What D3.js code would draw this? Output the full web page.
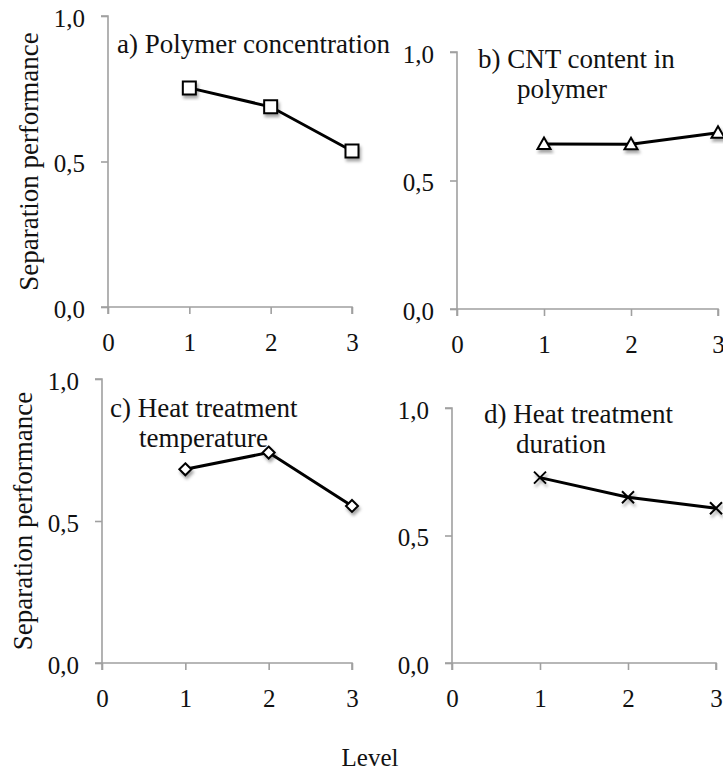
<!DOCTYPE html>
<html>
<head>
<meta charset="utf-8">
<script src="https://cdn.jsdelivr.net/npm/d3@7"></script>
<style>
  body { margin: 0; background: #fff; }
  svg text { font-family: 'Liberation Serif'; fill: #111; }
</style>
</head>
<body>
<svg id="chart"></svg>
<script>
// levels on the x axis
const levels = [1, 2, 3];
const xTicks = [0, 1, 2, 3];
const yTicks = [0, 0.5, 1.0];

// separation performance per panel
const polymerConc = [0.753, 0.688, 0.536];
const cntContent = [0.642, 0.641, 0.686];
const heatTemp = [0.682, 0.741, 0.553];
const heatDuration = [0.727, 0.650, 0.607];

const titlesA = ['a) Polymer concentration'];
const titlesB = ['b) CNT content in', 'polymer'];
const titlesC = ['c) Heat treatment', 'temperature'];
const titlesD = ['d) Heat treatment', 'duration'];

const yLabel = 'Separation performance';
const xLabel = 'Level';

const width = 723, height = 771;
const serif = "'Liberation Serif'";

const svg = d3.select('#chart')
    .attr('width', width)
    .attr('height', height);

// soft shadow under the markers
const defs = svg.append('defs');
defs.append('filter')
    .attr('id', 'shadow')
    .attr('x', '-50%').attr('y', '-50%')
    .attr('width', '200%').attr('height', '200%')
    .append('feDropShadow')
    .attr('dx', 1.5).attr('dy', 3)
    .attr('stdDeviation', 1.8)
    .attr('flood-color', '#000')
    .attr('flood-opacity', 0.35);

// panel frames (pixel boxes of each plot area)
const panels = [
    {values: polymerConc, titles: titlesA, symbol: 'square', left: 108, right: 352, top: 16, bottom: 307,
        tx: 117, ty: 53, indent: 0, ylab: true, ylx: 38},
    {values: cntContent, titles: titlesB, symbol: 'triangle', left: 457, right: 718, top: 52, bottom: 309,
        tx: 478, ty: 68, indent: 39, ylab: false},
    {values: heatTemp, titles: titlesC, symbol: 'diamond', left: 102, right: 352, top: 379, bottom: 663,
        tx: 110, ty: 417, indent: 29, ylab: true, ylx: 32},
    {values: heatDuration, titles: titlesD, symbol: 'cross', left: 452, right: 716, top: 408, bottom: 663,
        tx: 484, ty: 423, indent: 32, ylab: false}
];

function markerPath(type) {
    if (type === 'square') return 'M-6.5,-6.5H6.5V6.5H-6.5Z';
    if (type === 'triangle') return 'M0,-6.5L6.5,5L-6.5,5Z';
    if (type === 'diamond') return 'M0,-6L6,0L0,6L-6,0Z';
    return 'M-6,-6L6,6M-6,6L6,-6';
}

panels.forEach(p => {
    const x = d3.scaleLinear().domain([0, 3]).range([p.left, p.right]);
    const y = d3.scaleLinear().domain([0, 1]).range([p.bottom, p.top]);
    const g = svg.append('g');

    const yAxis = d3.axisLeft(y)
        .tickValues(yTicks)
        .tickSize(7)
        .tickPadding(16)
        .tickFormat(d => d3.format('.1f')(d).replace('.', ','));
    const xAxis = d3.axisBottom(x)
        .tickValues(xTicks)
        .tickSize(7)
        .tickPadding(19)
        .tickFormat(d3.format('d'));

    const ya = g.append('g')
        .attr('transform', `translate(${p.left},0)`)
        .call(yAxis);
    const xa = g.append('g')
        .attr('transform', `translate(0,${p.bottom})`)
        .call(xAxis);

    [ya, xa].forEach(a => {
        a.attr('font-family', serif).attr('font-size', 25);
        a.select('.domain').attr('stroke', '#a0a0a0').attr('stroke-width', 1.6);
        a.selectAll('.tick line').attr('stroke', '#a0a0a0').attr('stroke-width', 1.6);
        a.selectAll('text').attr('fill', '#111');
    });
    ya.selectAll('text').attr('dy', '0.4em');
    ya.select('.domain').attr('d', `M-7,${p.top}H0V${p.bottom}H-7`);
    xa.select('.domain').attr('d', `M${p.left},7V0H${p.right}V7`);

    // line
    const pts = levels.map((lv, i) => [lv, p.values[i]]);
    g.append('path')
        .datum(pts)
        .attr('fill', 'none')
        .attr('stroke', '#000')
        .attr('stroke-width', 3)
        .attr('d', d3.line().x(d => x(d[0])).y(d => y(d[1])));

    // markers
    g.selectAll('.mark')
        .data(pts)
        .join('path')
        .attr('class', 'mark')
        .attr('transform', d => `translate(${x(d[0])},${y(d[1])})`)
        .attr('d', markerPath(p.symbol))
        .attr('fill', p.symbol === 'cross' ? 'none' : '#fff')
        .attr('stroke', '#000')
        .attr('stroke-width', 2)
        .attr('filter', 'url(#shadow)');

    // panel title
    const t = g.append('text')
        .attr('x', p.tx)
        .attr('y', p.ty)
        .attr('font-family', serif)
        .attr('font-size', 27);
    p.titles.forEach((s, i) => {
        t.append('tspan')
            .attr('x', p.tx + (i ? p.indent : 0))
            .attr('dy', i ? 30 : 0)
            .text(s);
    });

    if (p.ylab) {
        g.append('text')
            .attr('transform', `translate(${p.ylx},${(p.top + p.bottom) / 2}) rotate(-90)`)
            .attr('text-anchor', 'middle')
            .attr('font-family', serif)
            .attr('font-size', 27)
            .text(yLabel);
    }
});

svg.append('text')
    .attr('x', 370)
    .attr('y', 766)
    .attr('text-anchor', 'middle')
    .attr('font-family', serif)
    .attr('font-size', 25)
    .text(xLabel);
</script>
</body>
</html>
